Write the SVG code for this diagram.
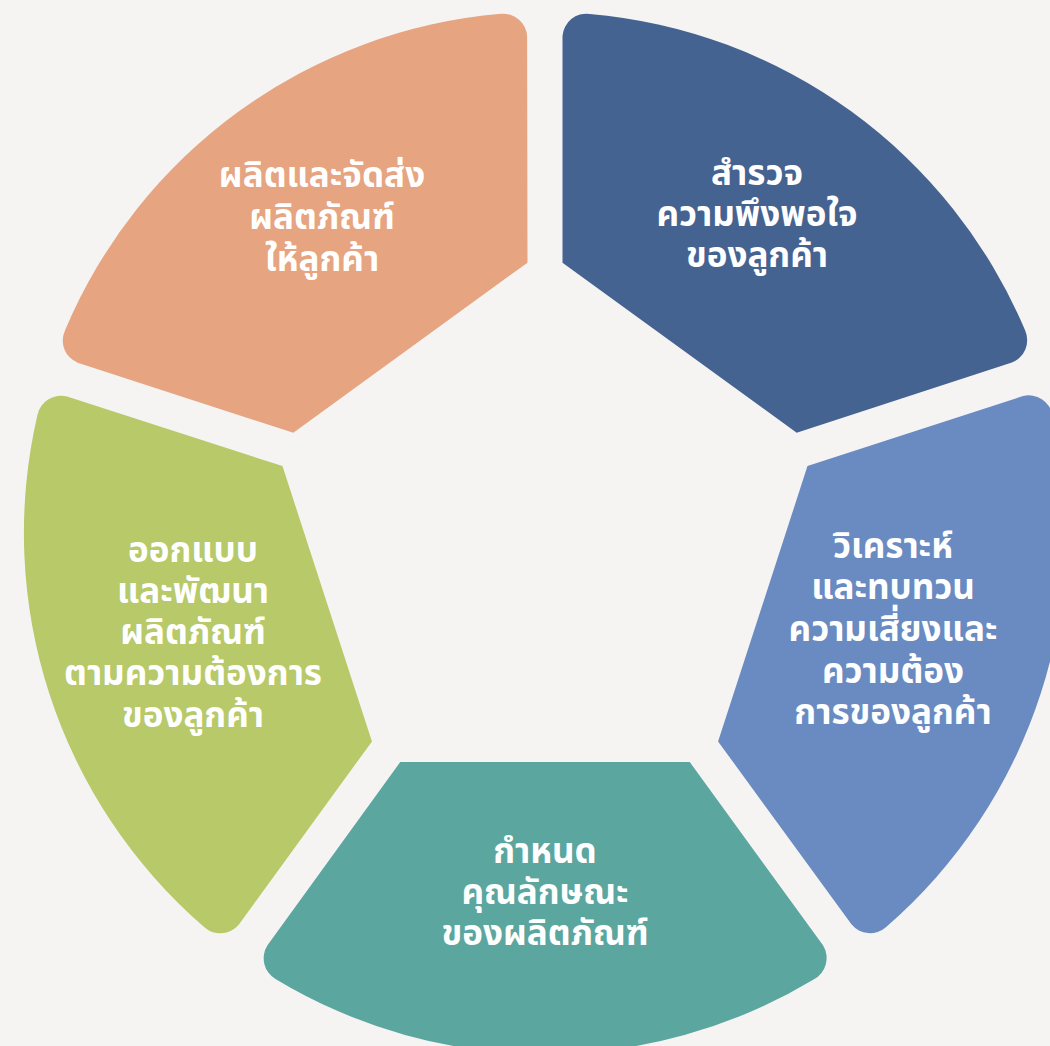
<svg xmlns="http://www.w3.org/2000/svg" width="1050" height="1046" viewBox="0 0 1050 1046">
<style>
.lbl{font-family:"Noto Sans Thai","Noto Sans","DejaVu Sans",sans-serif;font-size:35px;font-weight:bold;fill:#FFFFFF;text-anchor:middle}
</style>
<defs>
<path id="seg" d="M 17.5,-270.3 L 17.5,-497 A 24 24 0 0 1 44.6,-519.1 A 521 521 0 0 1 480.2,-202.4 A 24 24 0 0 1 466.9,-170.5 L 251.7,-100.2 Z"/>
</defs>
<rect x="0" y="0" width="1050" height="1046" fill="#F5F4F2"/>
<g id="node-survey">
<use href="#seg" transform="translate(545 533)" fill="#456391"/>
<text class="lbl"><tspan x="757" y="185">สำรวจ</tspan><tspan x="757" y="226">ความพึงพอใจ</tspan><tspan x="757" y="267">ของลูกค้า</tspan></text>
</g>
<g id="node-analyze">
<use href="#seg" transform="translate(545 533) rotate(72)" fill="#6A8BC1"/>
<text class="lbl"><tspan x="893" y="558">วิเคราะห์</tspan><tspan x="893" y="599">และทบทวน</tspan><tspan x="893" y="641">ความเสี่ยงและ</tspan><tspan x="893" y="683">ความต้อง</tspan><tspan x="893" y="724">การของลูกค้า</tspan></text>
</g>
<g id="node-specify">
<use href="#seg" transform="translate(545 533) rotate(144)" fill="#5CA6A0"/>
<text class="lbl"><tspan x="545" y="863">กำหนด</tspan><tspan x="545" y="904">คุณลักษณะ</tspan><tspan x="545" y="945">ของผลิตภัณฑ์</tspan></text>
</g>
<g id="node-design">
<use href="#seg" transform="translate(545 533) rotate(216)" fill="#B7C968"/>
<text class="lbl"><tspan x="193" y="562">ออกแบบ</tspan><tspan x="193" y="603">และพัฒนา</tspan><tspan x="193" y="644">ผลิตภัณฑ์</tspan><tspan x="193" y="685">ตามความต้องการ</tspan><tspan x="193" y="727">ของลูกค้า</tspan></text>
</g>
<g id="node-deliver">
<use href="#seg" transform="translate(545 533) rotate(288)" fill="#E6A481"/>
<text class="lbl"><tspan x="322" y="187">ผลิตและจัดส่ง</tspan><tspan x="322" y="229">ผลิตภัณฑ์</tspan><tspan x="322" y="271">ให้ลูกค้า</tspan></text>
</g>
<g id="connectors"></g>
</svg>
